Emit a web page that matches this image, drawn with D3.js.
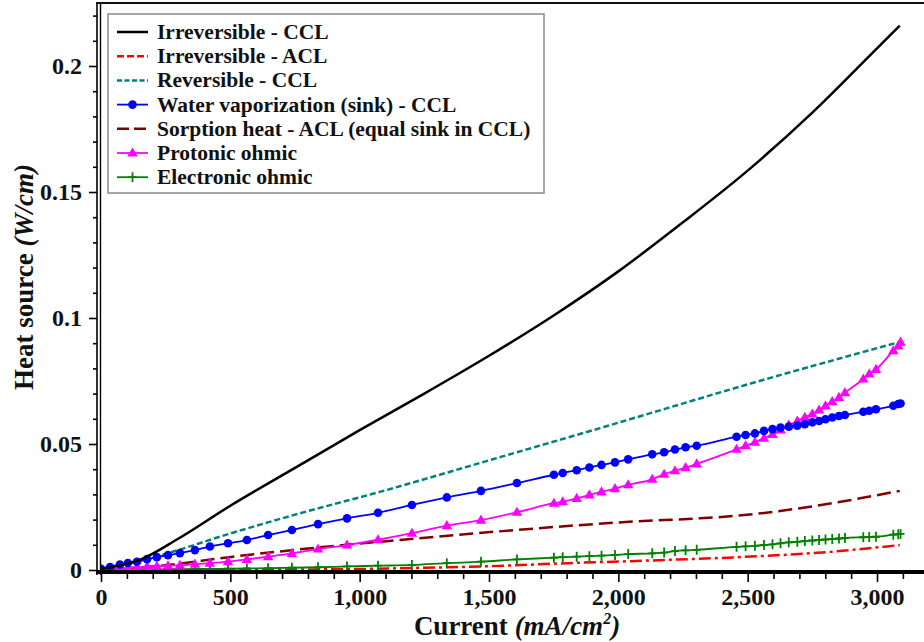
<!DOCTYPE html>
<html><head><meta charset="utf-8">
<script src="https://cdn.jsdelivr.net/npm/d3@7"></script>
<style>
body{margin:0;background:#fff;}
svg{display:block;font-family:"Liberation Serif","Times New Roman",serif;font-weight:bold;}
</style></head>
<body><svg id="c" width="924" height="642"></svg>
<script>
// ---------- data ----------
const xTicks = [0, 500, 1000, 1500, 2000, 2500, 3000];
const xTickLabels = ["0", "500", "1,000", "1,500", "2,000", "2,500", "3,000"];
const yTicks = [0, 0.05, 0.1, 0.15, 0.2];
const yTickLabels = ["0", "0.05", "0.1", "0.15", "0.2"];

// solver points shared by marker series (current, mA/cm2)
const markerX = [0, 35, 73, 104, 139, 178, 216, 259, 305, 363, 421, 491, 564, 646, 738, 839, 951, 1071, 1202, 1337, 1469, 1608, 1751, 1785, 1839, 1888, 1935, 1987, 2038, 2131, 2177, 2219, 2260, 2303, 2457, 2492, 2528, 2563, 2596, 2627, 2659, 2692, 2721, 2750, 2776, 2801, 2827, 2853, 2876, 2947, 2970, 2996, 3063, 3082, 3091];
const waterVap = [0.0005, 0.0012, 0.0022, 0.0028, 0.0033, 0.0043, 0.0051, 0.0059, 0.0067, 0.0079, 0.0093, 0.0106, 0.0119, 0.0139, 0.0159, 0.0182, 0.0205, 0.0227, 0.0258, 0.0288, 0.0314, 0.0345, 0.0378, 0.0385, 0.0396, 0.0407, 0.0417, 0.0427, 0.0439, 0.0459, 0.0467, 0.0478, 0.0487, 0.0493, 0.0529, 0.0536, 0.0542, 0.0552, 0.0559, 0.0565, 0.0569, 0.0573, 0.0579, 0.0586, 0.0591, 0.0598, 0.0605, 0.0611, 0.0615, 0.0628, 0.0632, 0.0638, 0.0652, 0.0659, 0.0661];
const protonic = [0.0003, 0.0006, 0.0007, 0.0009, 0.0011, 0.0013, 0.0015, 0.0017, 0.0019, 0.0023, 0.0027, 0.0033, 0.0042, 0.0053, 0.0066, 0.0083, 0.0099, 0.0120, 0.0146, 0.0176, 0.0198, 0.0229, 0.0265, 0.0271, 0.0284, 0.0298, 0.0310, 0.0323, 0.0338, 0.0360, 0.0380, 0.0394, 0.0406, 0.0421, 0.0479, 0.0493, 0.0507, 0.0523, 0.0538, 0.0556, 0.0575, 0.0591, 0.0606, 0.0619, 0.0635, 0.0651, 0.0668, 0.0685, 0.0704, 0.0758, 0.0778, 0.0796, 0.0870, 0.0889, 0.0904];
const electronic = [0.0001, 0.0001, 0.0001, 0.0001, 0.0002, 0.0002, 0.0002, 0.0003, 0.0003, 0.0004, 0.0004, 0.0005, 0.0006, 0.0007, 0.0009, 0.0011, 0.0014, 0.0017, 0.0020, 0.0027, 0.0033, 0.0042, 0.0049, 0.0051, 0.0053, 0.0055, 0.0057, 0.0060, 0.0063, 0.0066, 0.0069, 0.0075, 0.0078, 0.0080, 0.0092, 0.0094, 0.0096, 0.0099, 0.0102, 0.0106, 0.0110, 0.0112, 0.0115, 0.0117, 0.0119, 0.0121, 0.0123, 0.0125, 0.0127, 0.0130, 0.0131, 0.0132, 0.0140, 0.0142, 0.0143];

// line-only series
const irrCCLx = [0, 150, 300, 500, 750, 1000, 1250, 1500, 1750, 2000, 2250, 2500, 2750, 3000, 3088];
const irrCCL  = [0.0005, 0.0040, 0.0125, 0.0255, 0.0405, 0.0555, 0.0700, 0.0850, 0.1010, 0.1185, 0.1380, 0.1585, 0.1815, 0.2070, 0.2160];
const irrACLx = [0, 500, 1000, 1156, 1500, 1801, 2100, 2443, 2830, 3088];
const irrACL  = [0, 0.0001, 0.0004, 0.0007, 0.0015, 0.0027, 0.0037, 0.0050, 0.0073, 0.0099];
const revCCLx = [0, 200, 500, 769, 1078, 1500, 1929, 2559, 3088];
const revCCL  = [0.0005, 0.0050, 0.0145, 0.0225, 0.0310, 0.0435, 0.0563, 0.0754, 0.0905];
const sorptionX = [0, 189, 511, 1000, 1156, 1608, 2056, 2315, 2443, 2702, 2900, 3088];
const sorption  = [0.0003, 0.0013, 0.0053, 0.0105, 0.0119, 0.0159, 0.0192, 0.0205, 0.0214, 0.0245, 0.0278, 0.0314];

const legendLabels = ["Irreversible - CCL", "Irreversible - ACL", "Reversible - CCL", "Water vaporization (sink) - CCL", "Sorption heat - ACL (equal sink in CCL)", "Protonic ohmic", "Electronic ohmic"];

// ---------- drawing ----------
const svg = d3.select("#c");
const x = d3.scaleLinear().domain([0, 3200]).range([101, 101 + 3200 * 776 / 3000]);
const y = d3.scaleLinear().domain([0, 0.225]).range([570, 3]);

const series = [
  {xs: irrCCLx, ys: irrCCL, color: "#000000", w: 2.5, dash: null, marker: null},
  {xs: irrACLx, ys: irrACL, color: "#ff0000", w: 2.5, dash: "12,4,3,4", marker: null},
  {xs: revCCLx, ys: revCCL, color: "#008080", w: 2.5, dash: "6,3", marker: null},
  {xs: markerX, ys: waterVap, color: "#0000ff", w: 1.8, dash: null, marker: "circle"},
  {xs: sorptionX, ys: sorption, color: "#800000", w: 2.5, dash: "14,6", marker: null},
  {xs: markerX, ys: protonic, color: "#ff00ff", w: 1.8, dash: null, marker: "triangle"},
  {xs: markerX, ys: electronic, color: "#008000", w: 1.8, dash: null, marker: "plus"}
];

svg.append("defs").append("clipPath").attr("id", "clip")
  .append("rect").attr("x", 100).attr("y", 3).attr("width", 830).attr("height", 570);

const plot = svg.append("g").attr("clip-path", "url(#clip)");
const line = d3.line().x(d => x(d[0])).y(d => y(d[1])).curve(d3.curveMonotoneX);

function drawMarker(g, type, color, cx, cy) {
  if (type === "circle") {
    g.append("circle").attr("cx", cx).attr("cy", cy).attr("r", 4.3).attr("fill", color);
  } else if (type === "triangle") {
    g.append("path").attr("d", d3.symbol().type(d3.symbolTriangle).size(48)())
      .attr("transform", `translate(${cx},${cy + 0.5})`).attr("fill", color);
  } else if (type === "plus") {
    g.append("path").attr("d", `M${cx},${cy - 5}V${cy + 5}M${cx - 4},${cy}H${cx + 4}`)
      .attr("stroke", color).attr("stroke-width", 1.8).attr("fill", "none");
  }
}

const drawOrder = [4, 2, 1, 6, 5, 3, 0];
drawOrder.forEach(i => {
  const s = series[i];
  const pts = s.xs.map((v, k) => [v, s.ys[k]]);
  plot.append("path").datum(pts).attr("d", line)
    .attr("fill", "none").attr("stroke", s.color).attr("stroke-width", s.w)
    .attr("stroke-dasharray", s.dash);
  if (s.marker) {
    const mg = plot.append("g");
    pts.forEach(p => drawMarker(mg, s.marker, s.color, x(p[0]), y(p[1])));
  }
});

// ---------- axes ----------
const fontTick = 24;
const yAx = svg.append("g").attr("transform", "translate(97,0)")
  .call(d3.axisLeft(y).tickValues(yTicks).tickFormat((d, i) => yTickLabels[i]).tickSize(8).tickSizeOuter(0).tickPadding(7));
yAx.select(".domain").remove();
yAx.selectAll("line").attr("stroke", "#000").attr("stroke-width", 1.6);
yAx.selectAll("text").attr("font-size", fontTick).attr("font-family", "Liberation Serif, serif").attr("font-weight", "bold").attr("fill", "#111");
const yMinor = svg.append("g").attr("transform", "translate(97,0)")
  .call(d3.axisLeft(y).tickValues(d3.range(0, 0.2251, 0.01).filter(v => Math.abs(v / 0.05 - Math.round(v / 0.05)) > 1e-6)).tickFormat("").tickSize(4).tickSizeOuter(0));
yMinor.select(".domain").remove();
yMinor.selectAll("line").attr("stroke", "#000").attr("stroke-width", 1.6);

const xAx = svg.append("g").attr("transform", "translate(0,574)")
  .call(d3.axisBottom(x).tickValues(xTicks).tickFormat((d, i) => xTickLabels[i]).tickSize(8).tickSizeOuter(0).tickPadding(6));
xAx.select(".domain").remove();
xAx.selectAll("line").attr("stroke", "#000").attr("stroke-width", 1.6);
xAx.selectAll("text").attr("font-size", fontTick).attr("font-family", "Liberation Serif, serif").attr("font-weight", "bold").attr("fill", "#111");
const xMinor = svg.append("g").attr("transform", "translate(0,574)")
  .call(d3.axisBottom(x).tickValues(d3.range(100, 3200, 100).filter(v => v % 500 !== 0)).tickFormat("").tickSize(5).tickSizeOuter(0));
xMinor.select(".domain").remove();
xMinor.selectAll("line").attr("stroke", "#000").attr("stroke-width", 1.6);

svg.append("line").attr("x1", 97).attr("x2", 97).attr("y1", 2).attr("y2", 575).attr("stroke", "#000").attr("stroke-width", 1.6);
svg.append("line").attr("x1", 100.5).attr("x2", 100.5).attr("y1", 2).attr("y2", 575).attr("stroke", "#000").attr("stroke-width", 1.4);
svg.append("line").attr("x1", 96).attr("x2", 924).attr("y1", 572).attr("y2", 572).attr("stroke", "#000").attr("stroke-width", 4);
svg.append("line").attr("x1", 96).attr("x2", 924).attr("y1", 3).attr("y2", 3).attr("stroke", "#111").attr("stroke-width", 2.2);

const xt = svg.append("text").attr("x", 517).attr("y", 635).attr("text-anchor", "middle")
  .attr("font-size", 27).attr("fill", "#111");
xt.append("tspan").text("Current ");
xt.append("tspan").attr("font-style", "italic").text("(mA/cm");
xt.append("tspan").attr("font-style", "italic").attr("font-size", 16).attr("dy", -11).text("2");
xt.append("tspan").attr("font-style", "italic").attr("dy", 11).text(")");

const yt = svg.append("text").attr("transform", "translate(33,277) rotate(-90)").attr("text-anchor", "middle")
  .attr("font-size", 27).attr("fill", "#111");
yt.append("tspan").text("Heat source ");
yt.append("tspan").attr("font-style", "italic").text("(W/cm)");

// ---------- legend ----------
const lg = svg.append("g");
lg.append("rect").attr("x", 108).attr("y", 14).attr("width", 436).attr("height", 179)
  .attr("fill", "#fff").attr("stroke", "#8a8a8a").attr("stroke-width", 1.5);
const legendOrder = [0, 1, 2, 3, 4, 5, 6];
legendOrder.forEach((si, r) => {
  const s = series[si];
  const cy = 32 + r * 24.2;
  lg.append("line").attr("x1", 117).attr("x2", 148).attr("y1", cy).attr("y2", cy)
    .attr("stroke", s.color).attr("stroke-width", s.w)
    .attr("stroke-dasharray", si === 1 ? "7,3" : (si === 2 ? "5,2.5" : (si === 4 ? "12,5" : null)));
  if (s.marker) drawMarker(lg, s.marker, s.color, 132.5, cy);
  lg.append("text").attr("x", 157).attr("y", cy).attr("dy", "0.33em")
    .attr("font-size", 21.5).attr("fill", "#111").text(legendLabels[si]);
});
</script></body></html>
